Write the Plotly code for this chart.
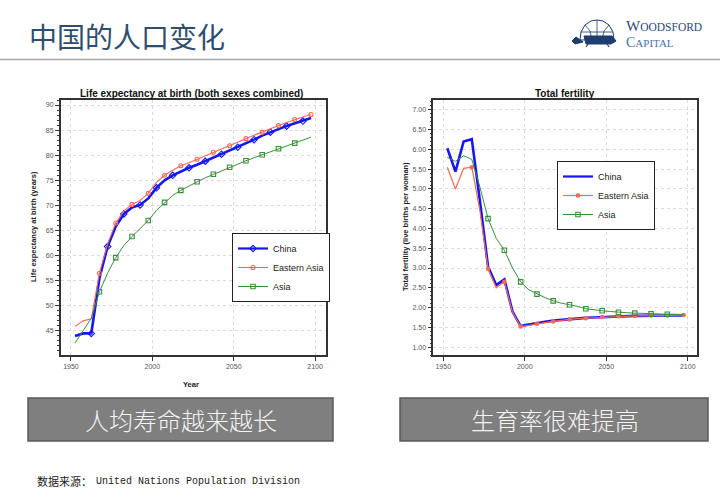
import plotly.graph_objects as go

# ---------------- data ----------------
years = [1952.5, 1957.5, 1962.5, 1967.5, 1972.5, 1977.5, 1982.5, 1987.5, 1992.5, 1997.5,
         2002.5, 2007.5, 2012.5, 2017.5, 2022.5, 2027.5, 2032.5, 2037.5, 2042.5, 2047.5,
         2052.5, 2057.5, 2062.5, 2067.5, 2072.5, 2077.5, 2082.5, 2087.5, 2092.5, 2097.5]

series_names = ["China", "Eastern Asia", "Asia"]

# Life expectancy at birth (both sexes combined), years
le_china = [44.0, 44.5, 44.5, 55.5, 61.8, 65.8, 68.3, 69.6, 70.1, 71.4,
            73.5, 75.0, 76.0, 76.8, 77.5, 78.1, 78.8, 79.5, 80.2, 80.9,
            81.6, 82.4, 83.1, 83.9, 84.6, 85.2, 85.8, 86.3, 86.8, 87.4]
le_east = [45.9, 47.0, 47.4, 56.5, 62.3, 66.5, 68.9, 70.2, 71.0, 72.4,
           74.6, 76.0, 77.0, 77.9, 78.5, 79.2, 79.9, 80.6, 81.2, 81.9,
           82.6, 83.3, 84.0, 84.6, 85.3, 85.9, 86.5, 87.1, 87.6, 88.1]
le_asia = [42.6, 45.0, 47.5, 52.8, 56.5, 59.6, 62.0, 63.8, 65.3, 67.0,
           69.0, 70.6, 72.0, 73.0, 73.9, 74.7, 75.5, 76.2, 76.9, 77.6,
           78.3, 78.9, 79.5, 80.1, 80.7, 81.3, 81.9, 82.4, 83.0, 83.6]

# Total fertility, live births per woman
tf_china = [6.03, 5.44, 6.20, 6.26, 4.70, 3.03, 2.57, 2.71, 1.90, 1.53,
            1.57, 1.61, 1.64, 1.67, 1.69, 1.71, 1.73, 1.74, 1.75, 1.76,
            1.77, 1.78, 1.78, 1.79, 1.79, 1.80, 1.80, 1.80, 1.80, 1.80]
tf_east = [5.55, 5.00, 5.52, 5.55, 4.45, 2.98, 2.50, 2.65, 1.88, 1.52,
           1.55, 1.59, 1.62, 1.65, 1.68, 1.70, 1.72, 1.73, 1.75, 1.76,
           1.77, 1.78, 1.78, 1.79, 1.79, 1.80, 1.80, 1.80, 1.80, 1.81]
tf_asia = [5.80, 5.70, 5.84, 5.75, 5.05, 4.25, 3.75, 3.45, 3.00, 2.65,
           2.45, 2.34, 2.25, 2.17, 2.11, 2.07, 2.03, 1.97, 1.94, 1.92,
           1.90, 1.88, 1.87, 1.86, 1.85, 1.84, 1.83, 1.83, 1.83, 1.82]

le_ticks = [45, 50, 55, 60, 65, 70, 75, 80, 85, 90]
tf_ticks = [1.0, 1.5, 2.0, 2.5, 3.0, 3.5, 4.0, 4.5, 5.0, 5.5, 6.0, 6.5, 7.0]
year_ticks = [1950, 2000, 2050, 2100]

# ---------------- layout helpers ----------------
W, H = 720, 502
def px(x):
    return x / W
def py(y):
    return 1 - y / H

ARIAL = "Arial, Liberation Sans, Helvetica, sans-serif"
CJK = "Noto Sans CJK SC, sans-serif"
BLUE = "#1616f2"
RED = "#f26a56"
GREEN = "#3a8f3a"
AXC = "#333333"

fig = go.Figure()

def add_series(xa, ya, x, y, color, width, symbol, msize, mslice, name, legend):
    fig.add_trace(go.Scatter(x=x, y=y, xaxis=xa, yaxis=ya, mode="lines",
                             line=dict(color=color, width=width),
                             showlegend=False, hoverinfo="skip"))
    mk = None
    if symbol:
        mk = dict(symbol=symbol, size=msize, color=color,
                  line=dict(color=color, width=1.1))
        fig.add_trace(go.Scatter(x=x[mslice], y=y[mslice], xaxis=xa, yaxis=ya,
                                 mode="markers", marker=mk,
                                 showlegend=False, hoverinfo="skip"))
    fig.add_trace(go.Scatter(x=[None], y=[None], xaxis=xa, yaxis=ya,
                             mode="lines+markers" if symbol else "lines",
                             line=dict(color=color, width=min(width, 2.2)),
                             marker=mk, name=name, legend=legend,
                             showlegend=True))

# left chart: life expectancy
add_series("x", "y", years, le_china, BLUE, 2.6, "diamond-open", 5, slice(2, None, 2), series_names[0], "legend")
add_series("x", "y", years, le_east, RED, 1.1, "circle-open", 4, slice(3, None, 2), series_names[1], "legend")
add_series("x", "y", years, le_asia, GREEN, 1.0, "square-open", 4.5, slice(3, -1, 2), series_names[2], "legend")

# right chart: total fertility
add_series("x2", "y2", years, tf_china, BLUE, 2.6, None, 0, None, series_names[0], "legend2")
add_series("x2", "y2", years, tf_east, RED, 1.2, "circle", 3.5, slice(3, None, 2), series_names[1], "legend2")
add_series("x2", "y2", years, tf_asia, GREEN, 1.0, "square-open", 4.5, slice(5, -1, 2), series_names[2], "legend2")

common_axis = dict(showline=True, mirror=True, linecolor=AXC, linewidth=1.5,
                   ticks="outside", ticklen=4, tickcolor=AXC, tickwidth=1,
                   showgrid=True, gridcolor="#dcdcdc", griddash="dot", gridwidth=1,
                   zeroline=False, tickfont=dict(family=ARIAL, size=7, color="#555"))

y_dom = [py(355), py(100)]

leg_common = dict(xanchor="left", yanchor="top",
                  bgcolor="white", bordercolor="#222", borderwidth=1,
                  font=dict(family=ARIAL, size=9, color="#222"),
                  itemwidth=30, tracegroupgap=0)

fig.update_layout(
    width=W, height=H, margin=dict(l=0, r=0, t=0, b=0),
    paper_bgcolor="white", plot_bgcolor="white", hovermode=False,
    xaxis=dict(domain=[px(60.7), px(325.7)], range=[1943.7, 2106.5], anchor="y",
               tickmode="array", tickvals=year_ticks, **common_axis),
    yaxis=dict(domain=y_dom, range=[40.2, 91.0], anchor="x",
               tickmode="array", tickvals=le_ticks,
               minor=dict(dtick=1, tick0=40, ticklen=2, ticks="outside",
                          tickcolor=AXC, showgrid=False),
               **common_axis),
    xaxis2=dict(domain=[px(433.3), px(696.7)], range=[1943.9, 2105.5], anchor="y2",
                tickmode="array", tickvals=year_ticks, **common_axis),
    yaxis2=dict(domain=y_dom, range=[0.8, 7.25], anchor="x2",
                tickmode="array", tickvals=tf_ticks, tickformat=".2f",
                minor=dict(dtick=0.1, tick0=0.8, ticklen=2, ticks="outside",
                           tickcolor=AXC, showgrid=False),
                **common_axis),
    legend=dict(x=px(232), y=py(233), **leg_common),
    legend2=dict(x=px(557), y=py(161), **leg_common),
)

ann = []
def text(x, y, s, size, color="#222", family=ARIAL, xanchor="center", angle=0, weight=None):
    f = dict(family=family, size=size, color=color)
    if weight:
        f["weight"] = weight
    ann.append(dict(x=px(x), y=py(y), xref="paper", yref="paper", text=s,
                    showarrow=False, xanchor=xanchor, yanchor="middle",
                    textangle=angle, font=f))

# page header
text(27, 36, "中国的人口变化", 28, color="#2f4e6f", family=CJK, xanchor="left")
text(624, 26, "<span style='font-size:15px'>W</span>OODSFORD", 11.5, color="#2a4a7a",
     family="Liberation Serif, DejaVu Serif, serif", xanchor="left")
text(624, 42, "<span style='font-size:14px'>C</span>APITAL", 11, color="#4a72a8",
     family="Liberation Serif, DejaVu Serif, serif", xanchor="left")

# chart titles and axis titles
text(191, 93, "<b>Life expectancy at birth (both sexes combined)</b>", 10, color="#111")
text(565, 93, "<b>Total fertility</b>", 10, color="#111")
text(191, 384, "<b>Year</b>", 7.5, color="#222")
text(33, 227, "<b>Life expectancy at birth (years)</b>", 7.5, color="#222", angle=-90)
text(405, 227, "<b>Total fertility (live births per woman)</b>", 7.5, color="#222", angle=-90)

# captions
text(180.5, 419.5, "人均寿命越来越长", 24, color="#f4f4f4", family=CJK, weight=300)
text(554.5, 419.5, "生育率很难提高", 24, color="#f4f4f4", family=CJK, weight=300)

# source line
text(35, 481, "数据来源：", 11, color="#222", family=CJK, xanchor="left")
text(94, 481, "United Nations Population Division", 10, color="#222",
     family="Liberation Mono, DejaVu Sans Mono, monospace", xanchor="left")

fig.update_layout(annotations=ann)

shapes = []
def rect(x0, y0, x1, y1, fill, line, lw):
    shapes.append(dict(type="rect", xref="paper", yref="paper",
                       x0=px(x0), x1=px(x1), y0=py(y1), y1=py(y0),
                       fillcolor=fill, line=dict(color=line, width=lw), layer="below"))

def path(pts, fill, line, lw, close=True):
    d = "M " + " L ".join(f"{px(a):.5f},{py(b):.5f}" for a, b in pts)
    if close:
        d += " Z"
    shapes.append(dict(type="path", xref="paper", yref="paper", path=d,
                       fillcolor=fill, line=dict(color=line, width=lw), layer="above"))

# header rule
shapes.append(dict(type="line", xref="paper", yref="paper", x0=0, x1=1,
                   y0=py(59.5), y1=py(59.5), line=dict(color="#a6a6a6", width=1.5)))
# caption boxes
rect(28, 398, 333, 441, "#7f7f7f", "#5a5a5a", 1.5)
rect(400, 398, 708, 441, "#7f7f7f", "#5a5a5a", 1.5)

# simple globe-tortoise logo mark
dome = [(580, 40), (581, 32), (585, 25), (591, 21), (597, 20), (603, 21), (609, 25), (613, 32), (614, 40)]
path(dome, "white", "#1f3c6e", 1)
path([(585, 25), (590, 31), (592, 40)], None, "#1f3c6e", 0.8, close=False)
path([(597, 20), (597, 40)], None, "#1f3c6e", 0.8, close=False)
path([(609, 25), (604, 31), (602, 40)], None, "#1f3c6e", 0.8, close=False)
path([(581, 32), (613, 32)], None, "#1f3c6e", 0.8, close=False)
path([(584, 36), (612, 36), (616, 41), (611, 44), (586, 44)], "#1f3c6e", "#1f3c6e", 1)
path([(576, 37), (572, 41), (575, 44), (583, 42)], "#1f3c6e", "#1f3c6e", 1)
path([(588, 44), (586, 47)], None, "#1f3c6e", 1.2, close=False)
path([(607, 44), (609, 47)], None, "#1f3c6e", 1.2, close=False)

fig.update_layout(shapes=shapes)

fig.write_html("out.html")
